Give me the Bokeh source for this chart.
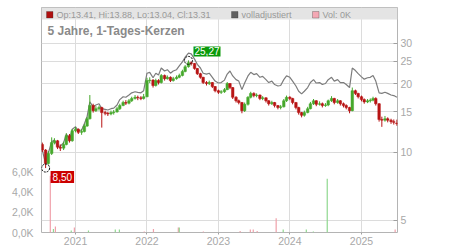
import datetime as dt
from bokeh.plotting import figure
from bokeh.models import (Range1d, LinearAxis, LinearScale, FixedTicker, DatetimeTickFormatter,
                          BoxAnnotation, Label, ColumnDataSource)
from bokeh.embed import file_html
from bokeh.resources import INLINE

# ---- data (semi-monthly candles) ----
opens = [10.8, 10.2, 8.9, 9.85, 11.0, 11.2, 10.5, 10.4, 10.8, 11.8, 11.2, 12.4, 12.6, 12.2, 12.3, 13.0,
         14.0, 16.0, 15.2, 15.5, 15.7, 14.9, 14.8, 14.7, 14.9, 15.0, 15.5, 16.0, 16.5, 16.4, 16.8, 17.2,
         17.4, 17.3, 17.2, 17.5, 20.6, 20.7, 19.6, 20.6, 20.2, 21.7, 21.0, 21.3, 20.6, 21.0, 21.3, 21.7,
         22.6, 23.7, 24.7, 24.5, 23.3, 22.1, 21.3, 20.2, 20.0, 20.2, 19.4, 18.6, 18.3, 18.4, 18.8, 20.0,
         19.2, 17.4, 16.8, 16.5, 15.2, 16.2, 17.4, 18.1, 17.7, 17.8, 17.2, 17.3, 16.8, 16.3, 16.5, 16.0,
         15.7, 15.8, 16.8, 17.4, 17.2, 16.5, 15.7, 14.9, 14.5, 14.9, 15.5, 16.3, 16.8, 16.2, 16.3, 16.0,
         16.1, 16.8, 17.2, 16.5, 16.8, 16.3, 16.0, 15.7, 15.2, 18.6, 18.1, 17.5, 17.0, 16.6, 16.8, 16.9,
         17.2, 16.3, 13.9, 13.8, 14.0, 13.8, 13.6, 13.41]
highs = [11.0, 10.3, 10.1, 11.6, 11.5, 11.3, 10.8, 11.1, 12.1, 12.0, 12.6, 12.9, 12.7, 12.6, 13.3, 14.3,
         17.8, 16.3, 15.9, 16.0, 15.8, 15.2, 15.0, 15.2, 15.3, 15.8, 16.3, 16.8, 16.9, 17.1, 17.5, 17.8,
         17.7, 17.6, 18.0, 21.2, 21.3, 20.9, 21.0, 20.9, 22.0, 21.9, 21.7, 21.5, 21.4, 21.7, 22.1, 23.0,
         24.1, 25.27, 25.0, 24.6, 23.4, 22.3, 21.4, 20.5, 20.6, 20.3, 19.5, 18.8, 18.7, 19.1, 20.3, 20.1,
         19.3, 17.6, 17.0, 16.6, 16.5, 17.6, 18.4, 18.3, 18.1, 17.9, 17.6, 17.4, 16.9, 16.8, 16.6, 16.1,
         16.1, 17.1, 17.7, 17.6, 17.3, 16.6, 15.8, 15.0, 15.2, 15.8, 16.6, 17.1, 16.9, 16.7, 16.5, 16.4,
         17.0, 17.6, 17.3, 17.1, 16.9, 16.5, 16.2, 15.8, 19.2, 18.8, 18.2, 17.7, 17.2, 17.1, 17.2, 17.5,
         17.4, 16.4, 14.3, 14.4, 14.2, 14.0, 13.9, 13.88]
lows = [10.0, 8.50, 8.8, 9.7, 10.8, 10.3, 10.1, 10.2, 10.7, 11.0, 11.1, 12.2, 12.0, 11.9, 12.2, 12.9,
        13.9, 14.9, 15.0, 15.2, 12.8, 14.5, 14.4, 14.5, 14.6, 14.9, 15.3, 15.9, 16.1, 16.2, 16.6, 17.0,
        16.9, 16.9, 17.0, 17.4, 20.1, 19.2, 19.4, 19.8, 20.0, 20.6, 20.8, 20.3, 20.4, 20.8, 21.1, 21.5,
        22.4, 23.5, 24.0, 23.0, 21.8, 21.0, 19.9, 19.6, 19.7, 19.1, 18.3, 18.0, 18.0, 18.2, 18.7, 18.9,
        17.1, 16.5, 16.2, 14.8, 15.0, 16.0, 17.2, 17.4, 17.4, 16.9, 16.9, 16.5, 16.0, 16.1, 15.7, 15.4,
        15.4, 15.7, 16.6, 16.9, 16.2, 15.4, 14.6, 14.2, 14.3, 14.8, 15.4, 16.1, 15.9, 16.0, 15.7, 15.8,
        15.9, 16.6, 16.2, 16.3, 16.0, 15.7, 15.4, 14.8, 15.1, 17.8, 17.2, 16.7, 16.3, 16.4, 16.5, 16.7,
        16.0, 13.6, 12.9, 13.6, 13.5, 13.3, 13.2, 13.04]
closes = [10.2, 8.9, 9.85, 11.0, 11.2, 10.5, 10.4, 10.8, 11.8, 11.2, 12.4, 12.6, 12.2, 12.3, 13.0, 14.0,
          16.0, 15.2, 15.5, 15.7, 14.9, 14.8, 14.7, 14.9, 15.0, 15.5, 16.0, 16.5, 16.4, 16.8, 17.2, 17.4,
          17.3, 17.2, 17.5, 20.6, 20.7, 19.6, 20.6, 20.2, 21.7, 21.0, 21.3, 20.6, 21.0, 21.3, 21.7, 22.6,
          23.7, 24.7, 24.5, 23.3, 22.1, 21.3, 20.2, 20.0, 20.2, 19.4, 18.6, 18.3, 18.4, 18.8, 20.0, 19.2,
          17.4, 16.8, 16.5, 15.2, 16.2, 17.4, 18.1, 17.7, 17.8, 17.2, 17.3, 16.8, 16.3, 16.5, 16.0, 15.7,
          15.8, 16.8, 17.4, 17.2, 16.5, 15.7, 14.9, 14.5, 14.9, 15.5, 16.3, 16.8, 16.2, 16.3, 16.0, 16.1,
          16.8, 17.2, 16.5, 16.8, 16.3, 16.0, 15.7, 15.2, 18.6, 18.1, 17.5, 17.0, 16.6, 16.8, 16.9, 17.2,
          16.3, 13.9, 13.8, 14.0, 13.8, 13.6, 13.5, 13.31]
adjusted = [10.2, 8.9, 9.9, 11.1, 11.3, 10.6, 10.6, 11.0, 12.0, 11.4, 12.6, 12.9, 12.4, 12.5, 13.3, 14.3,
            16.6, 15.8, 16.1, 16.3, 15.5, 15.4, 15.3, 15.5, 15.6, 16.1, 17.0, 17.5, 17.4, 17.8, 18.2, 18.4,
            18.3, 18.2, 18.6, 22.2, 22.4, 21.2, 22.2, 21.8, 23.4, 22.7, 23.0, 22.2, 22.7, 23.0, 23.9, 24.9,
            26.1, 27.2, 27.0, 25.6, 24.3, 23.4, 22.2, 22.0, 22.2, 21.3, 20.5, 20.1, 20.2, 20.7, 22.0, 22.7,
            21.6, 20.8, 20.5, 18.8, 20.1, 21.6, 22.4, 21.9, 22.1, 21.3, 21.5, 20.8, 20.2, 20.5, 19.8, 19.5,
            19.6, 20.8, 21.6, 21.3, 20.5, 19.5, 18.5, 18.0, 18.5, 19.2, 20.2, 20.8, 20.1, 20.2, 19.8, 20.0,
            20.8, 21.3, 20.5, 20.8, 20.2, 20.2, 19.8, 19.2, 23.4, 22.8, 22.1, 21.4, 20.9, 21.2, 21.3, 21.7,
            20.5, 18.2, 18.1, 18.3, 18.1, 17.8, 17.7, 17.4]

vol_dates = ["2020-08-25", "2020-09-10", "2020-09-20", "2020-12-10", "2020-12-26", "2021-03-08",
             "2021-07-23", "2021-08-13", "2021-12-18", "2022-02-03", "2022-06-10", "2022-06-15",
             "2022-10-16", "2023-04-22", "2023-06-13", "2023-06-28", "2023-07-18", "2023-10-23",
             "2023-11-28", "2024-03-25", "2024-04-30", "2024-07-10", "2025-06-22"]
vol_k = [5.6, 0.35, 0.6, 0.2, 0.5, 0.2, 0.3, 0.3, 0.1, 0.35, 0.5, 0.5, 0.1, 0.15, 0.3, 0.3, 0.15, 1.4,
         0.3, 0.3, 0.1, 5.3, 0.3]
vol_up = [False, True, False, True, False, True, True, True, False, False, False, True, False, False,
          False, False, False, False, True, True, True, True, False]

price_ticks = [5, 10, 15, 20, 25, 30]
vol_ticks = [0, 2, 4, 6]
vol_labels = ["0,0K", "2,0K", "4,0K", "6,0K"]
year_ticks = [2021, 2022, 2023, 2024, 2025]
legend_text = "Op:13.41, Hi:13.88, Lo:13.04, Cl:13.31"

# ---- dates for candles: 1st and 15th of each month ----
dates = []
for yr in range(2020, 2026):
    for mo in range(1, 13):
        for dd in (15, 1) if False else (1, 15):
            t = dt.datetime(yr, mo, dd)
            if dt.datetime(2020, 7, 15) <= t <= dt.datetime(2025, 7, 1):
                dates.append(t)

UP = "#46a82c"
DOWN = "#b81414"
colors = [UP if c >= o else DOWN for o, c in zip(opens, closes)]
src = ColumnDataSource(dict(date=dates, open=opens, high=highs, low=lows, close=closes,
                            top=[max(o, c) for o, c in zip(opens, closes)],
                            bottom=[min(o, c) for o, c in zip(opens, closes)],
                            color=colors))

FONT = "Liberation Sans"
p = figure(width=450, height=250, x_axis_type="datetime", y_axis_type="log",
           y_axis_location="right", output_backend="svg", toolbar_location=None,
           x_range=Range1d(dt.datetime(2020, 7, 11), dt.datetime(2025, 7, 4)),
           y_range=Range1d(4.428, 43.17),
           min_border_left=41, min_border_right=53, min_border_top=7, min_border_bottom=18)
p.background_fill_color = "white"
p.border_fill_color = "white"
p.outline_line_color = "#b4b4b4"
p.outline_line_width = 1

p.extra_y_ranges = {"vol": Range1d(0, 22.17)}
p.extra_y_scales = {"vol": LinearScale()}

# grids
p.xgrid.grid_line_color = "#dcdcdc"
p.ygrid.grid_line_color = "#dcdcdc"
p.ygrid.ticker = FixedTicker(ticks=price_ticks)

# right (price) axis
ya = p.yaxis[0]
ya.ticker = FixedTicker(ticks=price_ticks)
ya.major_label_overrides = {t: str(t) for t in price_ticks}
ya.axis_line_color = None
ya.major_tick_line_color = "#a0a0a0"
ya.major_tick_in = 4
ya.major_tick_out = 0
ya.minor_tick_line_color = None
ya.major_label_standoff = 3
ya.major_label_text_color = "#a8a8a8"
ya.major_label_text_font = FONT
ya.major_label_text_font_size = "10.5px"

# bottom axis
xa = p.xaxis[0]
year_ms = [dt.datetime(y, 1, 1).timestamp() * 1000 for y in year_ticks]
xa.ticker = FixedTicker(ticks=year_ms)
xa.formatter = DatetimeTickFormatter(years="%Y", months="%Y", days="%Y", hours="%Y", minutes="%Y",
                                     seconds="%Y", milliseconds="%Y", microseconds="%Y")
xa.axis_line_color = None
xa.major_tick_line_color = "#a0a0a0"
xa.major_tick_in = 0
xa.major_tick_out = 2
xa.minor_tick_line_color = None
xa.major_label_standoff = 2
xa.major_label_text_color = "#a8a8a8"
xa.major_label_text_font = FONT
xa.major_label_text_font_size = "10.5px"

# left (volume) axis
va = LinearAxis(y_range_name="vol", ticker=FixedTicker(ticks=vol_ticks),
                major_label_overrides=dict(zip(vol_ticks, vol_labels)))
va.axis_line_color = None
va.major_tick_line_color = None
va.minor_tick_line_color = None
va.major_label_standoff = 2
va.major_label_text_color = "#a8a8a8"
va.major_label_text_font = FONT
va.major_label_text_font_size = "10.5px"
p.add_layout(va, "left")

# volume
vsrc = ColumnDataSource(dict(date=[dt.datetime.fromisoformat(d) for d in vol_dates], v=vol_k,
                             zero=[0] * len(vol_k),
                             color=["#8fd88f" if u else "#f0a0aa" for u in vol_up]))
p.segment(x0="date", y0="zero", x1="date", y1="v", line_color="color", line_width=1.2,
          y_range_name="vol", source=vsrc)

# adjusted line
p.line(dates, adjusted, line_color="#7c7c7c", line_width=1.2)

# candles
p.segment(x0="date", y0="low", x1="date", y1="high", line_color="color", line_width=1, source=src)
p.vbar(x="date", width=13 * 86400000, top="top", bottom="bottom", fill_color="color",
       line_color="color", line_width=0.5, source=src)

# extreme markers and labels
hi_i = highs.index(max(highs))
lo_i = lows.index(min(lows))
p.scatter([dates[hi_i], dates[lo_i]], [highs[hi_i], lows[lo_i]], marker="circle", size=8,
          fill_color=None, line_color="black", line_width=1, line_dash="2 1")
p.add_layout(Label(x=dates[hi_i], y=highs[hi_i], x_offset=5, y_offset=9,
                   text=f"{highs[hi_i]:.2f}".replace(".", ","), text_color="white",
                   text_font=FONT, text_font_size="10px", text_baseline="middle",
                   background_fill_color="#0a9a0a", padding=1))
p.add_layout(Label(x=dates[lo_i], y=lows[lo_i], x_offset=5, y_offset=-9,
                   text=f"{lows[lo_i]:.2f}".replace(".", ","), text_color="white",
                   text_font=FONT, text_font_size="10px", text_baseline="middle",
                   background_fill_color="#cc0000", padding=2))

# legend bar (frame-relative screen units, y from frame bottom; frame height 225)
p.add_layout(BoxAnnotation(bottom=213, bottom_units="screen", fill_color="#e4e4e4", fill_alpha=1,
                           line_color=None))
for lx, fc, txt in [(5, "#b01010", legend_text), (190, "#606060", "volladjustiert"),
                    (271, "#f4a8b4", "Vol: 0K")]:
    p.add_layout(BoxAnnotation(left=lx, right=lx + 6.5, top=221, bottom=214.5, left_units="screen",
                               right_units="screen", top_units="screen", bottom_units="screen",
                               fill_color=fc, fill_alpha=1, line_color="#333333", line_width=1))
    p.add_layout(Label(x=lx + 10, y=218, x_units="screen", y_units="screen", text=txt,
                       text_color="#999999", text_font=FONT, text_font_size="9px",
                       text_baseline="middle"))

p.add_layout(Label(x=6, y=202, x_units="screen", y_units="screen", text="5 Jahre, 1-Tages-Kerzen",
                   text_color="#8a8a8a", text_font=FONT, text_font_size="12px",
                   text_font_style="bold", text_baseline="middle"))

open("out.html", "w").write(file_html(p, INLINE))
